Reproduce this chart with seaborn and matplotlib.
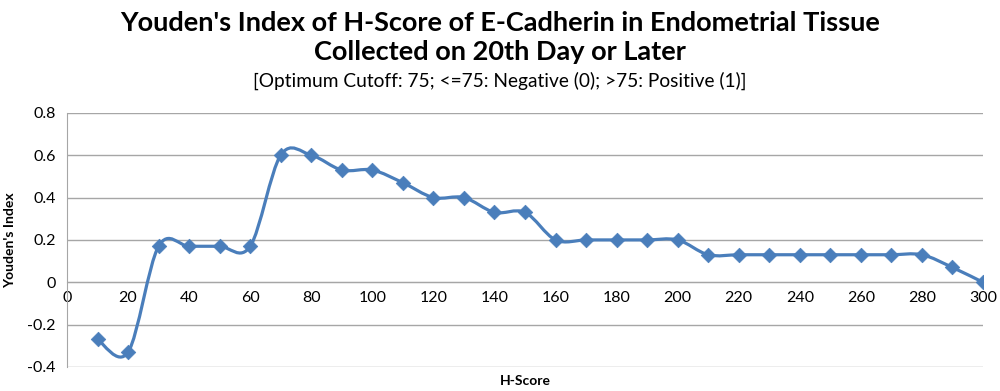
import numpy as np
import matplotlib
matplotlib.use("Agg")
import matplotlib.pyplot as plt
from matplotlib.path import Path
from matplotlib.patches import PathPatch
import seaborn as sns

# data
h_score = [10, 20, 30, 40, 50, 60, 70, 80, 90, 100,
           110, 120, 130, 140, 150, 160, 170, 180, 190, 200,
           210, 220, 230, 240, 250, 260, 270, 280, 290, 300]
youden = [-0.27, -0.33, 0.17, 0.17, 0.17, 0.17, 0.60, 0.60, 0.53, 0.53,
          0.47, 0.40, 0.40, 0.33, 0.33, 0.20, 0.20, 0.20, 0.20, 0.20,
          0.13, 0.13, 0.13, 0.13, 0.13, 0.13, 0.13, 0.13, 0.07, 0.00]
x_ticks = list(range(0, 301, 20))
y_ticks = [-0.4, -0.2, 0, 0.2, 0.4, 0.6, 0.8]
y_tick_labels = ["-0.4", "-0.2", "0", "0.2", "0.4", "0.6", "0.8"]

sns.set_style("white")
plt.rcParams['font.family'] = ['Lato', 'DejaVu Sans']
plt.rcParams['text.color'] = 'black'
plt.rcParams['axes.labelcolor'] = 'black'

blue = "#4A7EBB"
grid_col = "#A6A6A6"

fig = plt.figure(figsize=(10, 3.91), dpi=100)
ax = fig.add_axes([0.067, 0.0614, 0.916, 0.65])

# smoothed line like Excel (bezier through points)
pts = np.column_stack([h_score, youden])
verts = [tuple(pts[0])]
codes = [Path.MOVETO]
n = len(pts)
for i in range(n - 1):
    p0 = pts[i - 1] if i > 0 else pts[i]
    p1 = pts[i]
    p2 = pts[i + 1]
    p3 = pts[i + 2] if i + 2 < n else pts[i + 1]
    c1 = p1 + (p2 - p0) / 6
    c2 = p2 - (p3 - p1) / 6
    verts += [tuple(c1), tuple(c2), tuple(p2)]
    codes += [Path.CURVE4] * 3
ax.add_patch(PathPatch(Path(verts, codes), facecolor="none", edgecolor=blue,
                       lw=2.3, zorder=3, capstyle="round", joinstyle="round"))

sns.scatterplot(x=h_score, y=youden, marker="D", s=55, color=blue,
                edgecolor=blue, linewidth=0.5, zorder=4, ax=ax)

ax.set_xlim(0, 300)
ax.set_ylim(-0.4, 0.8)
ax.set_yticks(y_ticks)
ax.set_yticklabels(y_tick_labels)
ax.set_xticks(x_ticks)
ax.set_xticklabels([str(t) for t in x_ticks])
ax.yaxis.grid(True, color=grid_col, lw=1)
ax.set_axisbelow(True)

for s in ["top", "right"]:
    ax.spines[s].set_visible(False)
ax.spines["left"].set_color(grid_col)
ax.spines["bottom"].set_color(grid_col)
ax.spines["bottom"].set_position(("data", 0))
ax.tick_params(axis="both", length=0, labelsize=11.5, colors="black")
ax.tick_params(axis="x", pad=6)
ax.tick_params(axis="y", pad=8)

ax.set_ylabel("Youden's Index", fontsize=10, fontweight="bold", labelpad=8)
fig.text(0.525, 0.025, "H-Score", ha="center", va="center",
         fontsize=10, fontweight="bold")

fig.text(0.5, 0.94, "Youden's Index of H-Score of E-Cadherin in Endometrial Tissue",
         ha="center", va="center", fontsize=19.5, fontweight="bold")
fig.text(0.5, 0.868, "Collected on 20th Day or Later",
         ha="center", va="center", fontsize=19.5, fontweight="bold")
fig.text(0.5, 0.793, "[Optimum Cutoff: 75; <=75: Negative (0); >75: Positive (1)]",
         ha="center", va="center", fontsize=13.8)

fig.savefig("out.png", dpi=100)
